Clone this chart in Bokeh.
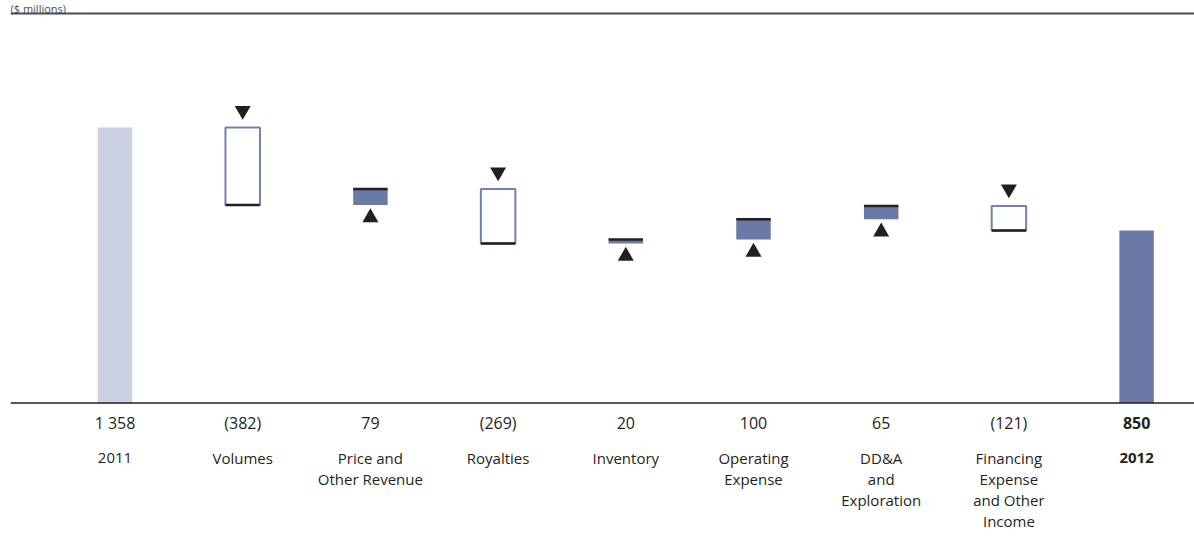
from bokeh.plotting import figure
from bokeh.models import ColumnDataSource, Span, Label
from bokeh.core.properties import value
from bokeh.embed import file_html
from bokeh.resources import INLINE

# ---- data ($ millions) ----
categories = ["2011", "Volumes", "Price and\nOther Revenue", "Royalties", "Inventory",
              "Operating\nExpense", "DD&A\nand\nExploration",
              "Financing\nExpense\nand Other\nIncome", "2012"]
opening = 1358
changes = [-382, 79, -269, 20, 100, 65, -121]
closing = 850

# ---- colours ----
INK = "#231f20"
RULE = "#4d4d4f"
PALE = "#cbd0e2"
BLUE = "#6b79a6"
OUTLINE = "#7081b3"

# ---- layout ----
W, H = 1194, 536
LEFT = 10
PX_PER_UNIT = 0.2028
BASE_PX = 402.5
X0_PX, STEP_PX = 114.5, 127.7
BAR_W = 0.27
FONT = "Open Sans"

y_top = BASE_PX / PX_PER_UNIT
y_bot = -(H - BASE_PX) / PX_PER_UNIT
x_start = -(X0_PX - LEFT) / STEP_PX
x_end = (W - X0_PX) / STEP_PX


def fmt(v):
    s = f"{abs(v):,}".replace(",", " ")
    return f"({s})" if v < 0 else s


# running totals for the floating bars
before, after = [], []
level = opening
for c in changes:
    before.append(level)
    level += c
    after.append(level)

dec = dict(x=[], top=[], bottom=[])
inc = dict(x=[], top=[], bottom=[])
for i, c in enumerate(changes, start=1):
    if c < 0:
        dec["x"].append(i); dec["top"].append(before[i - 1]); dec["bottom"].append(after[i - 1])
    else:
        inc["x"].append(i); inc["top"].append(after[i - 1]); inc["bottom"].append(before[i - 1])

p = figure(width=W, height=H, x_range=(x_start, x_end), y_range=(y_bot, y_top),
           output_backend="svg", toolbar_location=None,
           x_axis_location=None, y_axis_location=None,
           min_border_left=LEFT, min_border_right=0, min_border_top=0, min_border_bottom=0)
p.grid.visible = False
p.outline_line_color = None
p.background_fill_color = "white"
p.border_fill_color = "white"

# opening and closing totals
p.vbar(x=[0, len(categories) - 1], top=[opening, closing], bottom=0, width=BAR_W,
       fill_color=[PALE, BLUE], line_color=None)

# decreases: open boxes with a downward marker
p.vbar(x="x", top="top", bottom="bottom", width=BAR_W, source=ColumnDataSource(dec),
       fill_color="white", line_color=OUTLINE, line_width=2)
# increases: filled boxes with an upward marker
p.vbar(x="x", top="top", bottom="bottom", width=BAR_W, source=ColumnDataSource(inc),
       fill_color=BLUE, line_color=None)

# black rule at each new running level
xs = list(range(1, len(changes) + 1))
p.segment(x0=[x - BAR_W / 2 for x in xs], x1=[x + BAR_W / 2 for x in xs],
          y0=after, y1=after, line_color=INK, line_width=2.5)

p.scatter(x=dec["x"], y=[t + 17 / PX_PER_UNIT for t in dec["top"]],
          marker="inverted_triangle", size=16, fill_color=INK, line_color=None)
p.scatter(x=inc["x"], y=[b - 12.5 / PX_PER_UNIT for b in inc["bottom"]],
          marker="triangle", size=16, fill_color=INK, line_color=None)

# value and category labels under the baseline
values = [opening] + changes + [closing]
n = len(categories)
styles = ["bold" if i == n - 1 else "normal" for i in range(n)]
p.text(x=list(range(n)), y=[0] * n, text=[fmt(v) for v in values],
       y_offset=20, text_align="center", text_baseline="middle",
       text_font=value(FONT), text_font_size="16px", text_color=INK,
       text_font_style=styles)

lx, ltxt, loff, lsty = [], [], [], []
for i, cat in enumerate(categories):
    for j, line in enumerate(cat.split("\n")):
        lx.append(i); ltxt.append(line); loff.append(55 + 21 * j); lsty.append(styles[i])
p.text(x=lx, y=[0] * len(lx), text=ltxt, y_offset=loff,
       text_align="center", text_baseline="middle",
       text_font=value(FONT), text_font_size="15px", text_color=INK,
       text_font_style=lsty)

# baseline and header rule
p.add_layout(Span(location=0, dimension="width", line_color=INK, line_width=1.5))
p.add_layout(Span(location=(BASE_PX - 13) / PX_PER_UNIT, dimension="width",
                  line_color=RULE, line_width=2))
p.add_layout(Label(x=x_start, y=(BASE_PX - 7.5) / PX_PER_UNIT, text="($ millions)",
                   text_baseline="alphabetic", text_font=FONT, text_font_size="11px",
                   text_color=RULE))

open("out.html", "w").write(file_html(p, INLINE))
